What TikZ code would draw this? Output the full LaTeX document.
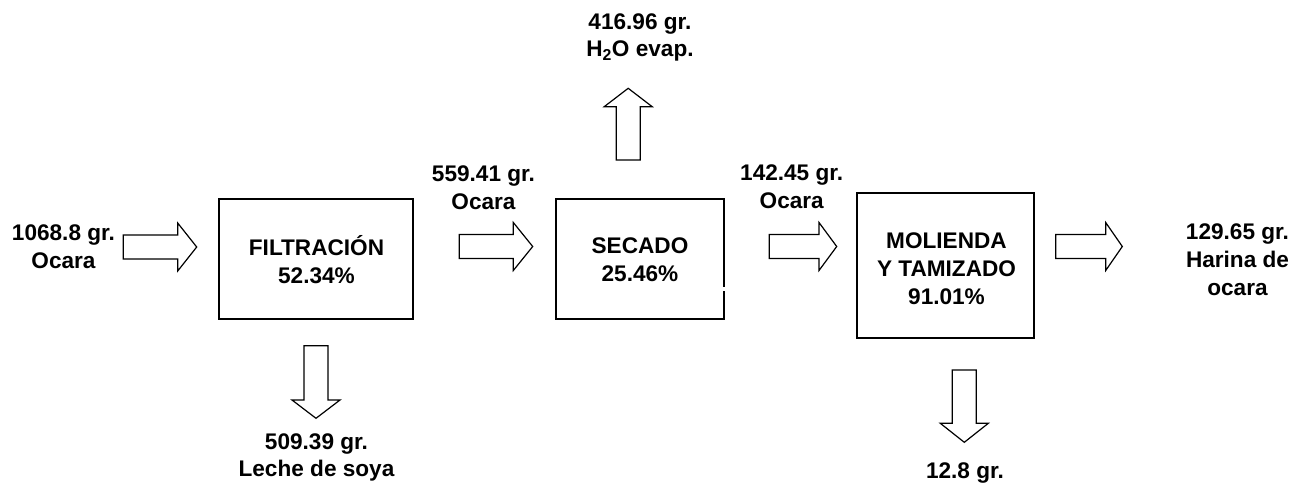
\documentclass[tikz,border=0pt]{standalone}
\usepackage{fontspec}
\setmainfont{Liberation Sans}
\begin{document}
\begin{tikzpicture}[x=1pt,y=-1pt,
  lbl/.style={font=\bfseries\fontsize{22.6}{27.6}\selectfont, align=center, inner sep=0pt, anchor=base},
  procbox/.style={draw, line width=1.8pt, inner sep=0pt},
  pics/barrow/.style 2 args={code={
    \draw[line width=1.2pt, line join=miter, fill=white]
      (0,-12) -- ({#1-#2},-12) -- ({#1-#2},-24) -- (#1,0) -- ({#1-#2},24) -- ({#1-#2},12) -- (0,12) -- cycle;
  }}]
\useasboundingbox (0,0) rectangle (1312,487);
% process boxes
\node[procbox, minimum width=194pt, minimum height=120pt] (filt) at (316,259) {};
\node[procbox, minimum width=168pt, minimum height=120pt] (sec) at (640,259) {};
\node[procbox, minimum width=177pt, minimum height=145pt] (mol) at (945.5,265.8) {};
\fill[white] (722.5,287) rectangle (726,291);
\node[lbl] (filtT) at (316.5,283.3) {FILTRACIÓN\\52.34\%};
\node[lbl] (secT) at (640,281.5) {SECADO\\25.46\%};
\node[lbl] (molT) at (946.5,304) {MOLIENDA\\Y TAMIZADO\\91.01\%};
% labels (anchor = baseline of last line)
\node[lbl] (tin) at (63.5,268) {1068.8 gr.\\Ocara};
\node[lbl] (t559) at (483.5,209) {559.41 gr.\\Ocara};
\node[lbl] (t416) at (640,56.7) {416.96 gr.\\H\textsubscript{2}O evap.};
\node[lbl] (t142) at (791.7,208.3) {142.45 gr.\\Ocara};
\node[lbl] (t129) at (1237.5,295) {129.65 gr.\\Harina de\\ocara};
\node[lbl] (t509) at (316.5,476.7) {509.39 gr.\\Leche de soya};
\node[lbl] (t12) at (965,478.3) {12.8 gr.};
% block arrows
\pic (a1) at (123.3,247) {barrow={73.4}{19}};
\pic (a2) at (459.3,246.5) {barrow={73.4}{19.4}};
\pic (a3) at (769.3,246.5) {barrow={67.4}{17.7}};
\pic (a4) at (1055.7,246.5) {barrow={66.6}{16.6}};
\pic[rotate=90] (a5) at (628.2,160) {barrow={71.7}{18.4}};
\pic[rotate=-90] (a6) at (316,345.7) {barrow={72.6}{18.3}};
\pic[rotate=-90] (a7) at (964.3,370) {barrow={72.3}{19}};
\end{tikzpicture}
\end{document}
